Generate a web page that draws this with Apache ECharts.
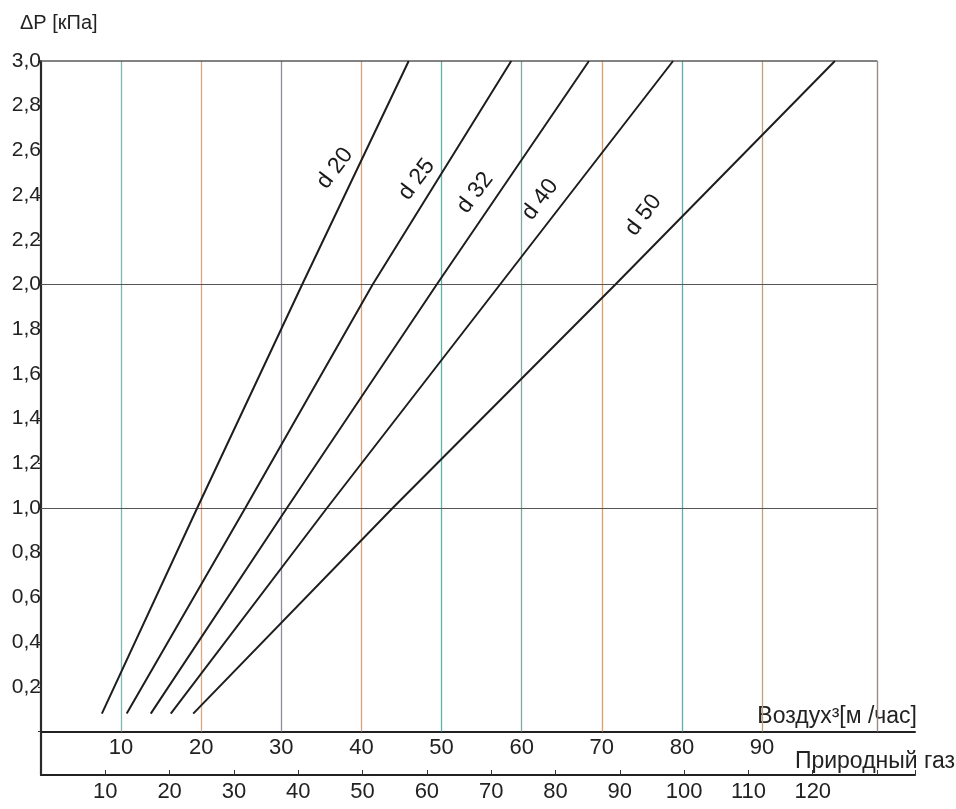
<!DOCTYPE html>
<html>
<head>
<meta charset="utf-8">
<script src="https://cdn.jsdelivr.net/npm/echarts@6/dist/echarts.min.js"></script>
<style>
html,body{margin:0;padding:0;background:#fff;}
#chart{width:956px;height:809px;}
</style>
</head>
<body>
<div id="chart"></div>
<script>
// ---- data ----
const seriesNames = ['d 20', 'd 25', 'd 32', 'd 40', 'd 50'];
// [air flow m3/h, dP kPa]
const d20 = [[7.6, 0.08], [19.5, 1.0], [32.6, 2.0], [45.9, 3.0]];
const d25 = [[10.7, 0.08], [25.5, 1.0], [41.4, 2.0], [58.7, 3.0]];
const d32 = [[13.7, 0.08], [30.7, 1.0], [49.4, 2.0], [68.4, 3.0]];
const d40 = [[16.2, 0.08], [35.7, 1.0], [57.3, 2.0], [78.9, 3.0]];
const d50 = [[19.0, 0.08], [43.9, 1.0], [71.7, 2.0], [99.1, 3.0]];
// label anchors for each curve (air flow, dP)
const labelAt = [[36.7, 2.52], [46.9, 2.47], [54.2, 2.41], [62.3, 2.38], [75.2, 2.31]];
// grid / axes
const airGridValues = [10, 20, 30, 40, 50, 60, 70, 80, 90];
const airLabelValues = [10, 20, 30, 40, 50, 60, 70, 80, 90];
const gasLabelValues = [10, 20, 30, 40, 50, 60, 70, 80, 90, 100, 110, 120];
const pressureLines = [1.0, 2.0, 3.0];
const frameRightAir = 104.4;
const airMax = 109.1;
const gasMax = 135.9;
const yMax = 3.0;
const yStep = 0.2;

// ---- styles ----
const FONT = "'Liberation Sans Narrow', 'Liberation Sans', Arial, sans-serif";
const vColors = ['#7fb6b4', '#dca584', '#8f8aa2', '#d9a276', '#5fb0ae', '#7fa9a2', '#dc9f6c', '#62acaa', '#c0a27e'];

const chart = echarts.init(document.getElementById('chart'), null, {renderer: 'canvas'});

const allSeries = [d20, d25, d32, d40, d50];

const markData = [];
airGridValues.forEach((v, i) => {
  markData.push([
    {coord: [v, 0], lineStyle: {color: vColors[i % vColors.length], width: 1.3, type: 'solid', opacity: 1}},
    {coord: [v, yMax]}
  ]);
});
pressureLines.forEach(p => {
  markData.push([
    {coord: [0, p], lineStyle: {color: p === yMax ? '#5a5a5a' : '#555', width: p === yMax ? 1.6 : 1.1, type: 'solid', opacity: 1}},
    {coord: [frameRightAir, p]}
  ]);
});
markData.push([
  {coord: [frameRightAir, 0], lineStyle: {color: '#9c8a86', width: 1.4, type: 'solid', opacity: 1}},
  {coord: [frameRightAir, yMax]}
]);

const series = allSeries.map((d, i) => {
  const s = {
    name: seriesNames[i],
    type: 'line',
    xAxisIndex: 0,
    yAxisIndex: 0,
    data: d,
    showSymbol: false,
    symbol: 'none',
    smooth: false,
    silent: true,
    z: 5,
    lineStyle: {color: '#1e1e1e', width: 2},
    markPoint: {
      symbol: 'circle',
      symbolSize: 0,
      silent: true,
      animation: false,
      label: {
        show: true,
        position: 'inside',
        formatter: seriesNames[i],
        rotate: 53,
        color: '#1a1a1a',
        fontFamily: FONT,
        fontSize: 23
      },
      data: [{coord: labelAt[i], value: seriesNames[i]}]
    }
  };
  if (i === 0) {
    s.markLine = {
      silent: true,
      animation: false,
      symbol: ['none', 'none'],
      label: {show: false},
      z: 1,
      data: markData
    };
  }
  return s;
});

const option = {
  animation: false,
  backgroundColor: '#ffffff',
  title: {
    text: 'ΔP [кПа]',
    left: 15,
    top: 8,
    textStyle: {fontFamily: FONT, fontSize: 20, fontWeight: 'normal', color: '#222'}
  },
  grid: [
    {left: 41, right: 41, top: 61, bottom: 77.5, containLabel: false},
    {left: 41, right: 41, top: 731.5, bottom: 34, containLabel: false}
  ],
  xAxis: [
    {
      type: 'value', gridIndex: 0, min: 0, max: airMax, interval: 10,
      position: 'bottom',
      name: 'Воздух³[м /час]',
      nameLocation: 'end',
      nameGap: 2,
      nameTextStyle: {fontFamily: FONT, fontSize: 23, color: '#222', align: 'right', verticalAlign: 'bottom', padding: [0, 0, 3, 0]},
      axisLine: {show: true, onZero: false, lineStyle: {color: '#222', width: 2}},
      axisTick: {show: false},
      axisLabel: {
        show: true, margin: 5, fontFamily: FONT, fontSize: 22, color: '#222',
        formatter: v => airLabelValues.indexOf(Math.round(v)) >= 0 && Math.abs(v - Math.round(v)) < 1e-6 ? String(Math.round(v)) : ''
      },
      splitLine: {show: false}
    },
    {
      type: 'value', gridIndex: 1, min: 0, max: gasMax, interval: 10,
      position: 'bottom',
      name: 'Природный газ',
      nameLocation: 'end',
      nameGap: 40,
      nameTextStyle: {fontFamily: FONT, fontSize: 23, color: '#222', align: 'right', verticalAlign: 'bottom', padding: [0, 0, 2, 0]},
      axisLine: {show: true, onZero: false, lineStyle: {color: '#222', width: 2}},
      axisTick: {show: true, inside: true, length: 5, lineStyle: {color: '#333'}},
      axisLabel: {
        show: true, margin: 6, fontFamily: FONT, fontSize: 22, color: '#222',
        formatter: v => gasLabelValues.indexOf(Math.round(v)) >= 0 && Math.abs(v - Math.round(v)) < 1e-6 ? String(Math.round(v)) : ''
      },
      splitLine: {show: false}
    }
  ],
  yAxis: [
    {
      type: 'value', gridIndex: 0, min: 0, max: yMax, interval: yStep,
      axisLine: {show: true, lineStyle: {color: '#2a2a2a', width: 2.2}},
      axisTick: {show: true, length: 3, lineStyle: {color: '#333'}},
      axisLabel: {
        show: true, margin: 0, fontFamily: FONT, fontSize: 21, color: '#222',
        formatter: v => v < 1e-6 ? '' : v.toFixed(1).replace('.', ',')
      },
      splitLine: {show: false}
    },
    {
      type: 'value', gridIndex: 1, min: 0, max: 1,
      axisLine: {show: true, lineStyle: {color: '#2a2a2a', width: 2.2}},
      axisTick: {show: false},
      axisLabel: {show: false},
      splitLine: {show: false}
    }
  ],
  series: series
};

chart.setOption(option);
</script>
</body>
</html>
